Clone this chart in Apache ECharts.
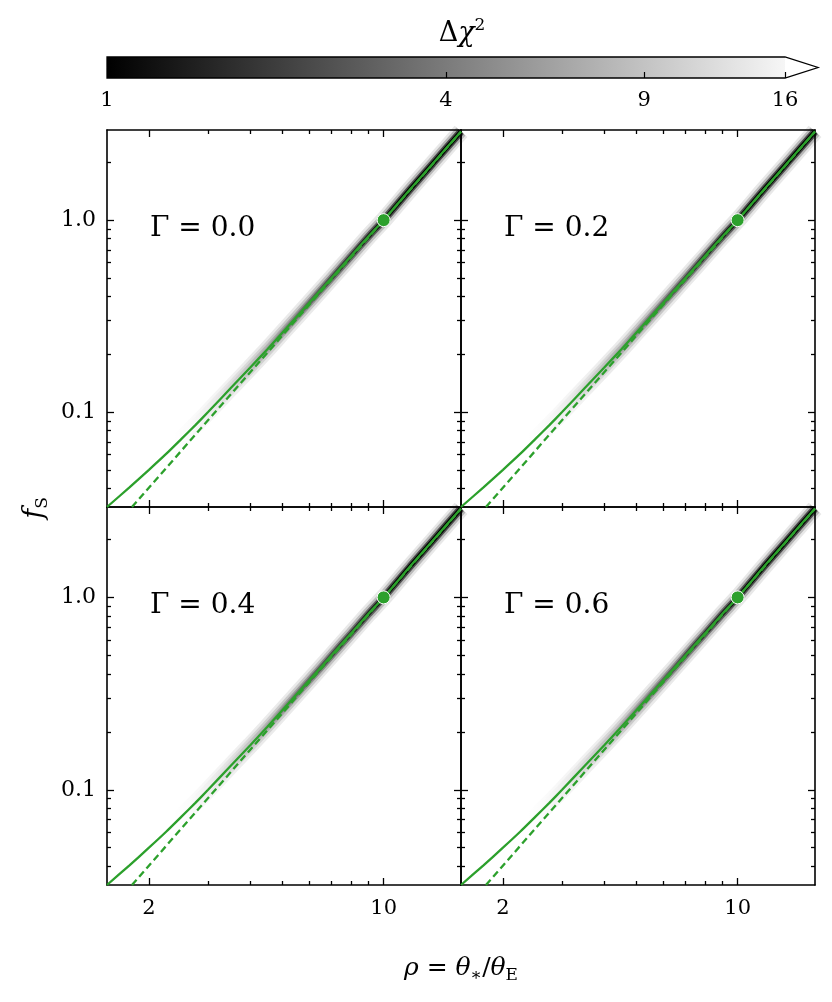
<!DOCTYPE html>
<html>
<head>
<meta charset="utf-8">
<script src="https://cdn.jsdelivr.net/npm/echarts@6/dist/echarts.min.js"></script>
<style>
  html, body { margin: 0; padding: 0; background: #ffffff; }
  #chart { width: 832px; height: 1002px; }
</style>
</head>
<body>
<div id="chart"></div>
<script>
// panel labels (limb darkening)
var gammas = ['0.0', '0.2', '0.4', '0.6'];

// best-fit curve f_S(rho)
var rho = [1.5, 1.75, 2, 2.25, 2.5, 2.75, 3, 3.5, 4, 4.5, 5, 6, 7, 8, 9, 10, 12, 14, 17];
var fsSolid = [0.032, 0.0405, 0.050, 0.0605, 0.0725, 0.0855, 0.100, 0.133, 0.170, 0.212, 0.260,
               0.370, 0.500, 0.650, 0.820, 1.00, 1.45, 1.97, 2.9];

// rho^2 approximation (dashed)
var rhoDashed = [1.78, 10, 17];
var fsDashed = [0.032, 1.0, 2.89];

// marked solution
var bestRho = [10];
var bestFs = [1.0];

// ticks
var xMajor = [2, 10];
var xMinor = [3, 4, 5, 6, 7, 8, 9];
var yMajor = [0.1, 1];
var yMinor = [0.04, 0.05, 0.06, 0.07, 0.08, 0.09, 0.2, 0.3, 0.4, 0.5, 0.6, 0.7, 0.8, 0.9, 2];
var cbTicks = [4, 9, 16];
var cbLabels = [1, 4, 9, 16];

var X_MIN = 1.5, X_MAX = 17, Y_MIN = 0.032, Y_MAX = 2.95;
var CB_MIN = 1, CB_MAX = 16;

var FONT = 'DejaVu Serif';
var GREEN = '#2ca02c';
var LOG = function (v) { return Math.log10(v); };

var panels = [
  { left: 107, top: 130, height: 377, row: 0, col: 0 },
  { left: 461, top: 130, height: 377, row: 0, col: 1 },
  { left: 107, top: 507, height: 378, row: 1, col: 0 },
  { left: 461, top: 507, height: 378, row: 1, col: 1 }
];
var PW = 354;

var fmtX = function (v) { return String(Math.round(Math.pow(10, v))); };
var fmtY = function (v) { return Math.pow(10, v).toFixed(1); };

function xAxisOf(g, pos, ticks, len, withLine, labels) {
  return {
    type: 'value', gridIndex: g, position: pos,
    min: LOG(X_MIN), max: LOG(X_MAX),
    axisLine: { show: withLine, onZero: false, lineStyle: { color: '#000', width: 1.6 } },
    axisTick: { show: true, inside: true, length: len, customValues: ticks.map(LOG),
                lineStyle: { color: '#000', width: 1.3 } },
    axisLabel: labels ? { show: true, customValues: labels.map(LOG), formatter: fmtX, margin: 13,
                          color: '#000', fontFamily: FONT, fontSize: 21 } : { show: false },
    splitLine: { show: false }
  };
}

function yAxisOf(g, pos, ticks, len, withLine, labels) {
  return {
    type: 'value', gridIndex: g, position: pos,
    min: LOG(Y_MIN), max: LOG(Y_MAX),
    axisLine: { show: withLine, onZero: false, lineStyle: { color: '#000', width: 1.6 } },
    axisTick: { show: true, inside: true, length: len, customValues: ticks.map(LOG),
                lineStyle: { color: '#000', width: 1.3 } },
    axisLabel: labels ? { show: true, customValues: labels.map(LOG), formatter: fmtY, margin: 11,
                          color: '#000', fontFamily: FONT, fontSize: 22 } : { show: false },
    splitLine: { show: false }
  };
}

function pairs(xs, ys) {
  return xs.map(function (x, i) { return [LOG(x), LOG(ys[i])]; });
}

function fade(stops) {
  return new echarts.graphic.LinearGradient(0, 0, 1, 0, stops.map(function (s) {
    return { offset: s[0], color: 'rgba(0,0,0,' + s[1] + ')' };
  }));
}

// grey Δχ² valley drawn as stacked soft strokes along the curve
var bandLayers = [
  { width: 17, stops: [[0, 0], [0.2, 0], [0.42, 0.08], [0.75, 0.09], [1, 0.09]] },
  { width: 12, stops: [[0, 0], [0.24, 0], [0.5, 0.14], [0.8, 0.2], [1, 0.22]] },
  { width: 7.5, stops: [[0, 0], [0.3, 0], [0.6, 0.28], [0.8, 0.55], [1, 0.6]] },
  { width: 4.5, stops: [[0, 0], [0.42, 0], [0.7, 0.6], [0.85, 1], [1, 1]] }
];

var grids = [], xAxes = [], yAxes = [], series = [], graphics = [];

panels.forEach(function (p, g) {
  grids.push({ left: p.left, top: p.top, width: PW, height: p.height, containLabel: false });
  var xi = xAxes.length, yi = yAxes.length;
  xAxes.push(xAxisOf(g, 'bottom', xMajor, 7, true, p.row === 1 ? xMajor : null));
  xAxes.push(xAxisOf(g, 'bottom', xMinor, 4, false, null));
  xAxes.push(xAxisOf(g, 'top', xMajor, 7, true, null));
  xAxes.push(xAxisOf(g, 'top', xMinor, 4, false, null));
  yAxes.push(yAxisOf(g, 'left', yMajor, 7, true, p.col === 0 ? yMajor : null));
  yAxes.push(yAxisOf(g, 'left', yMinor, 4, false, null));
  yAxes.push(yAxisOf(g, 'right', yMajor, 7, true, null));
  yAxes.push(yAxisOf(g, 'right', yMinor, 4, false, null));

  bandLayers.forEach(function (b) {
    series.push({
      type: 'line', xAxisIndex: xi, yAxisIndex: yi, data: pairs(rho, fsSolid),
      symbol: 'none', silent: true, z: 1, animation: false, smooth: 0.2,
      lineStyle: { width: b.width, color: fade(b.stops), cap: 'butt' }
    });
  });
  series.push({
    type: 'line', xAxisIndex: xi, yAxisIndex: yi, data: pairs(rhoDashed, fsDashed),
    symbol: 'none', z: 3, animation: false,
    lineStyle: { width: 2.3, color: GREEN, type: [7, 4] }
  });
  series.push({
    type: 'line', xAxisIndex: xi, yAxisIndex: yi, data: pairs(rho, fsSolid),
    symbol: 'none', z: 4, animation: false, smooth: 0.2,
    lineStyle: { width: 2.3, color: GREEN }
  });
  series.push({
    type: 'scatter', xAxisIndex: xi, yAxisIndex: yi, data: pairs(bestRho, bestFs),
    symbolSize: 13, z: 5, animation: false,
    itemStyle: { color: GREEN, borderColor: '#ffffff', borderWidth: 1, opacity: 1 }
  });

  graphics.push({
    type: 'text', x: p.left + 43, y: p.top + 99,
    style: { text: 'Γ = ' + gammas[g], fill: '#000', fontFamily: FONT, fontSize: 28,
             verticalAlign: 'middle', align: 'left' }
  });
});

// colourbar, log-scaled
var CB = { left: 107, top: 57, width: 678, height: 21, tip: 33 };
grids.push({ left: CB.left, top: CB.top, width: CB.width, height: CB.height });
var cbGrid = grids.length - 1;
xAxes.push({
  type: 'value', gridIndex: cbGrid, position: 'bottom',
  min: LOG(CB_MIN), max: LOG(CB_MAX),
  axisLine: { show: false },
  axisTick: { show: true, inside: true, length: 6, customValues: cbTicks.map(LOG),
              lineStyle: { color: '#000', width: 1.2 } },
  axisLabel: { show: true, customValues: cbLabels.map(LOG), formatter: fmtX, margin: 12,
               color: '#000', fontFamily: FONT, fontSize: 21 },
  splitLine: { show: false }
});
yAxes.push({ type: 'value', gridIndex: cbGrid, min: 0, max: 1, show: false });

graphics.push({
  type: 'rect', z: -1,
  shape: { x: CB.left, y: CB.top, width: CB.width, height: CB.height },
  style: { fill: new echarts.graphic.LinearGradient(0, 0, 1, 0, [
    { offset: 0, color: '#000000' }, { offset: 1, color: '#f6f6f6' }]) }
});
graphics.push({
  type: 'polygon', z: -1,
  shape: { points: [[CB.left, CB.top], [CB.left + CB.width, CB.top],
                    [CB.left + CB.width + CB.tip, CB.top + CB.height / 2],
                    [CB.left + CB.width, CB.top + CB.height], [CB.left, CB.top + CB.height]] },
  style: { fill: null, stroke: '#000', lineWidth: 1.3 }
});
graphics.push({
  type: 'polygon', z: -2,
  shape: { points: [[CB.left + CB.width, CB.top],
                    [CB.left + CB.width + CB.tip, CB.top + CB.height / 2],
                    [CB.left + CB.width, CB.top + CB.height]] },
  style: { fill: '#ffffff' }
});

// titles and axis names
graphics.push({
  type: 'text', x: 462, y: 34,
  style: {
    text: '{a|Δ}{i|χ}{s|2}', align: 'center', verticalAlign: 'middle',
    rich: {
      a: { fontFamily: FONT, fontSize: 27, color: '#000', lineHeight: 34 },
      i: { fontFamily: FONT, fontStyle: 'italic', fontSize: 27, color: '#000', lineHeight: 34 },
      s: { fontFamily: FONT, fontSize: 17, color: '#000', lineHeight: 17, verticalAlign: 'top' }
    }
  }
});
graphics.push({
  type: 'text', x: 461, y: 968,
  style: {
    text: '{i|ρ}{a| = }{i|θ}{s|∗}{a|/}{i|θ}{s|E}', align: 'center', verticalAlign: 'middle',
    rich: {
      a: { fontFamily: FONT, fontSize: 25, color: '#000', lineHeight: 32 },
      i: { fontFamily: FONT, fontStyle: 'italic', fontSize: 25, color: '#000', lineHeight: 32 },
      s: { fontFamily: FONT, fontSize: 17, color: '#000', lineHeight: 17, verticalAlign: 'bottom' }
    }
  }
});
graphics.push({
  type: 'text', x: 35, y: 508, rotation: Math.PI / 2,
  style: {
    text: '{i|f}{s|S}', align: 'center', verticalAlign: 'middle',
    rich: {
      i: { fontFamily: FONT, fontStyle: 'italic', fontSize: 27, color: '#000', lineHeight: 32 },
      s: { fontFamily: FONT, fontSize: 17, color: '#000', lineHeight: 17, verticalAlign: 'bottom' }
    }
  }
});

var chart = echarts.init(document.getElementById('chart'), null, { renderer: 'canvas' });
chart.setOption({
  animation: false,
  backgroundColor: '#ffffff',
  grid: grids,
  xAxis: xAxes,
  yAxis: yAxes,
  series: series,
  graphic: graphics
});
</script>
</body>
</html>
